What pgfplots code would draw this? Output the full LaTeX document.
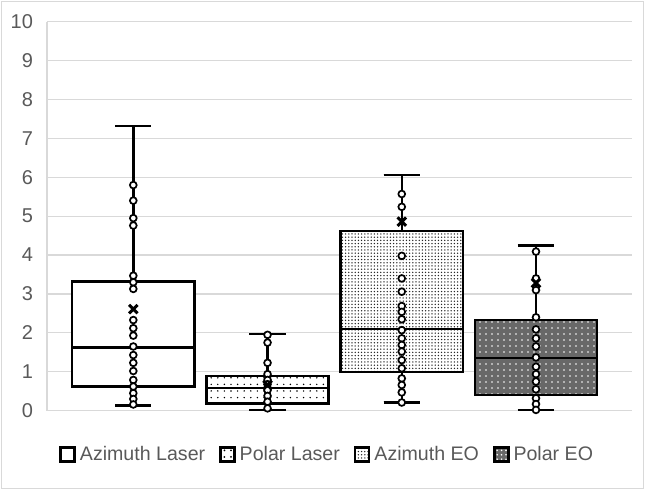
\documentclass[border=0pt]{standalone}
\usepackage{pgfplots}
\pgfplotsset{compat=1.18}
\usepgfplotslibrary{statistics}
\usetikzlibrary{patterns.meta}
\usepackage{fontspec}
\setmainfont{Liberation Sans}
\definecolor{gridc}{HTML}{D9D9D9}
\definecolor{txt}{HTML}{595959}
\definecolor{darkfill}{HTML}{686868}
\begin{document}
\begin{tikzpicture}
\begin{axis}[
  at={(23.5pt,39.65pt)}, anchor=south west,
  scale only axis, width=292.35pt, height=194.5pt,
  xmin=0.357, xmax=4.713, ymin=0, ymax=10,
  ytick={0,1,...,10}, xtick=\empty,
  ymajorgrids, grid style={gridc, line width=0.6pt},
  axis x line*=bottom, axis y line*=left,
  axis line style={gridc, line width=0.6pt, -},
  major tick length=0pt,
  tick label style={font=\fontsize{10}{12}\selectfont, text=txt},
  yticklabel style={xshift=-3.5pt},
  /pgf/number format/assume math mode=true,
  legend style={at={(0.481,-0.113)}, anchor=center, draw=none, fill=none,
    font=\fontsize{9.8}{12}\selectfont, text=txt, legend columns=4},
  legend image code/.code={\draw[#1] (0pt,-3.5pt) rectangle (7pt,3.5pt);},
  boxplot/draw direction=y,
  boxplot/box extend=0.91, boxplot/whisker extend=0.27,
]
% Azimuth Laser
\addplot[boxplot prepared={draw position=1, lower whisker=0.13, lower quartile=0.62,
  median=1.62, upper quartile=3.32, upper whisker=7.32},
  draw=black, line width=1.25pt, fill=white, forget plot] coordinates {};
% Polar Laser
\addplot[boxplot prepared={draw position=2, lower whisker=0.02, lower quartile=0.19,
  median=0.58, upper quartile=0.89, upper whisker=1.97},
  draw=black, line width=1.25pt, fill=white, forget plot] coordinates {};
\addplot[boxplot prepared={draw position=2, lower whisker=0.02, lower quartile=0.19,
  median=0.58, upper quartile=0.89, upper whisker=1.97},
  draw=black, line width=1.25pt,
  pattern={Dots[distance=3.3pt, radius=0.4pt]}, pattern color=black, forget plot] coordinates {};
% Azimuth EO
\addplot[boxplot prepared={draw position=3, lower whisker=0.21, lower quartile=0.99,
  median=2.10, upper quartile=4.62, upper whisker=6.06},
  draw=black, line width=1.25pt, fill=white, forget plot] coordinates {};
\addplot[boxplot prepared={draw position=3, lower whisker=0.21, lower quartile=0.99,
  median=2.10, upper quartile=4.62, upper whisker=6.06},
  draw=black, line width=1.25pt,
  pattern={Dots[distance=1.6pt, radius=0.38pt]}, pattern color=black!85, forget plot] coordinates {};
% Polar EO
\addplot[boxplot prepared={draw position=4, lower whisker=0.02, lower quartile=0.40,
  median=1.35, upper quartile=2.33, upper whisker=4.24},
  draw=black, line width=1.25pt, fill=darkfill, forget plot] coordinates {};
\addplot[boxplot prepared={draw position=4, lower whisker=0.02, lower quartile=0.40,
  median=1.35, upper quartile=2.33, upper whisker=4.24},
  draw=black, line width=1.25pt,
  pattern={Dots[distance=3pt, radius=0.45pt]}, pattern color=white, forget plot] coordinates {};
% inner points
\addplot[only marks, mark=*, mark size=1.7pt, mark options={line width=0.85pt, fill=white, draw=black}, forget plot]
coordinates {
(1,5.80) (1,5.40) (1,4.95) (1,4.76) (1,3.47) (1,3.30) (1,3.13) (1,2.33) (1,2.12) (1,1.93)
(1,1.65) (1,1.43) (1,1.23) (1,1.02) (1,0.79) (1,0.62) (1,0.45) (1,0.30) (1,0.16)
(2,1.95) (2,1.75) (2,1.23) (2,0.94) (2,0.79) (2,0.68) (2,0.53) (2,0.38) (2,0.23) (2,0.06)
(3,5.57) (3,5.24) (3,3.98) (3,3.40) (3,3.06) (3,2.69) (3,2.54) (3,2.35) (3,2.07) (3,1.86)
(3,1.69) (3,1.52) (3,1.30) (3,1.09) (3,0.83) (3,0.66) (3,0.47) (3,0.21)
(4,4.09) (4,3.40) (4,3.10) (4,2.40) (4,2.09) (4,1.86) (4,1.65) (4,1.37) (4,1.13) (4,0.94)
(4,0.75) (4,0.55) (4,0.32) (4,0.17) (4,0.02)
};
% means
\addplot[only marks, mark=x, mark size=3pt, mark options={line width=1.5pt, draw=black}, forget plot]
coordinates {(1,2.61) (2,0.66) (3,4.86) (4,3.28)};
\addlegendimage{draw=black, line width=1.25pt, fill=white}
\addlegendentry{Azimuth Laser\rule{5pt}{0pt}}
\addlegendimage{draw=black, line width=1.25pt, preaction={fill=white}, pattern={Dots[distance=3.3pt, radius=0.5pt]}, pattern color=black}
\addlegendentry{Polar Laser\rule{5pt}{0pt}}
\addlegendimage{draw=black, line width=1.25pt, preaction={fill=white}, pattern={Dots[distance=1.6pt, radius=0.38pt]}, pattern color=black!85}
\addlegendentry{Azimuth EO\rule{5pt}{0pt}}
\addlegendimage{draw=black, line width=1.25pt, preaction={fill=darkfill}, pattern={Dots[distance=2.2pt, radius=0.45pt]}, pattern color=white}
\addlegendentry{Polar EO}
\end{axis}
\draw[gridc, line width=0.6pt] (0.6pt,0.6pt) rectangle (321.6pt,244.4pt);
\pgfresetboundingbox
\path (0,0) rectangle (322.5pt,245pt);
\end{tikzpicture}
\end{document}
